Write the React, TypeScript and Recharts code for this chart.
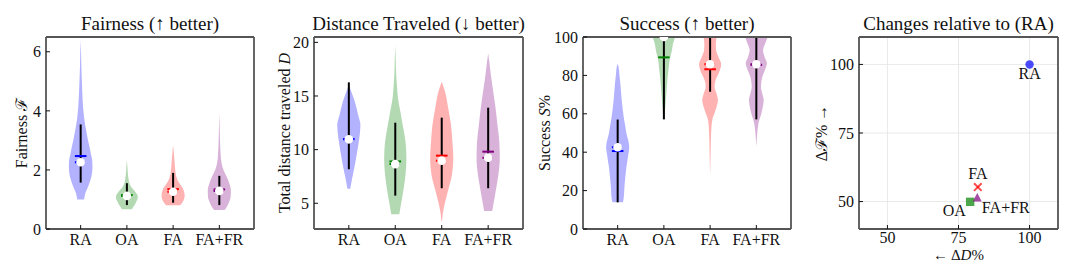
import React from 'react';
import {
  ComposedChart,
  ScatterChart,
  Area,
  Scatter,
  XAxis,
  YAxis,
  ReferenceLine,
  ReferenceDot,
  CartesianGrid,
} from 'recharts';

const methods = ['RA', 'OA', 'FA', 'FA+FR'];
const positions = [1, 2, 3, 4];
const colors = ['#0000ff', '#008000', '#ff0000', '#800080'];

// Violin outlines: [value, half-width in category units]
const fairRA = [[1.0, 0.075], [1.1, 0.085], [1.25, 0.11], [1.43, 0.16], [1.65, 0.21], [1.88, 0.245], [2.1, 0.255], [2.33, 0.25], [2.55, 0.22], [2.79, 0.19], [3.0, 0.16], [3.24, 0.13], [3.5, 0.1], [3.8, 0.072], [4.37, 0.043], [4.93, 0.028], [5.5, 0.015], [6.0, 0.008], [6.4, 0]];
const fairOA = [[0.67, 0.11], [0.75, 0.14], [0.85, 0.18], [0.95, 0.21], [1.05, 0.235], [1.12, 0.235], [1.22, 0.2], [1.32, 0.15], [1.43, 0.09], [1.55, 0.055], [1.7, 0.035], [1.9, 0.02], [2.1, 0.012], [2.33, 0]];
const fairFA = [[0.8, 0.15], [0.9, 0.2], [1.0, 0.235], [1.12, 0.25], [1.25, 0.24], [1.38, 0.21], [1.5, 0.16], [1.6, 0.115], [1.75, 0.075], [1.95, 0.05], [2.2, 0.035], [2.5, 0.02], [2.84, 0]];
const fairFR = [[0.64, 0.11], [0.72, 0.15], [0.87, 0.2], [1.09, 0.245], [1.3, 0.25], [1.55, 0.215], [1.77, 0.16], [2.0, 0.09], [2.22, 0.05], [2.5, 0.03], [2.79, 0.02], [3.3, 0.01], [3.95, 0]];
const fairMean = [2.47, 1.15, 1.35, 1.34];
const fairMedian = [2.26, 1.12, 1.26, 1.29];
const fairLow = [1.57, 0.81, 0.89, 0.81];
const fairHigh = [3.54, 1.55, 1.9, 1.8];

const distRA = [[6.35, 0.03], [7.33, 0.072], [8.57, 0.13], [9.8, 0.18], [11.06, 0.225], [12.3, 0.25], [13.23, 0.2], [14.47, 0.13], [15.2, 0.07], [15.9, 0.01]];
const distOA = [[3.97, 0.087], [4.84, 0.12], [6.08, 0.17], [7.64, 0.22], [9.19, 0.24], [10.74, 0.22], [12.3, 0.16], [13.54, 0.11], [14.8, 0.058], [16.0, 0.035], [17.0, 0.02], [18.5, 0.01], [19.7, 0]];
const distFA = [[3.35, 0.008], [3.9, 0.02], [4.84, 0.058], [6.08, 0.13], [7.64, 0.22], [9.19, 0.25], [10.74, 0.23], [12.3, 0.2], [13.85, 0.14], [15.4, 0.072], [16.33, 0]];
const distFR = [[4.28, 0.087], [4.84, 0.11], [6.08, 0.16], [7.64, 0.22], [9.19, 0.25], [10.74, 0.24], [12.3, 0.2], [13.85, 0.16], [15.4, 0.11], [16.96, 0.058], [18.0, 0.03], [18.98, 0]];
const distMean = [10.98, 8.9, 9.44, 9.81];
const distMedian = [10.96, 8.65, 8.97, 9.25];
const distLow = [8.17, 5.71, 6.4, 6.4];
const distHigh = [16.27, 12.51, 12.98, 13.91];

const succRA = [[13.9, 0.11], [15.1, 0.125], [22.9, 0.15], [32.4, 0.19], [38, 0.225], [42.9, 0.25], [46, 0.23], [49.8, 0.19], [54.2, 0.16], [58.5, 0.13], [67.2, 0.087], [75.9, 0.058], [81, 0.035], [84.5, 0.02], [86, 0]];
const succOA = [[57.1, 0.01], [62, 0.025], [67.2, 0.043], [75.9, 0.07], [80.2, 0.087], [84.5, 0.108], [88.9, 0.13], [91.5, 0.16], [94, 0.18], [96.7, 0.2], [100, 0.245]];
const succFA = [[28.1, 0], [34, 0.006], [40.3, 0.012], [47, 0.018], [53.3, 0.03], [57.7, 0.055], [60.3, 0.095], [63.5, 0.14], [67, 0.17], [70.5, 0.14], [74.1, 0.095], [77.6, 0.12], [81.9, 0.2], [85.8, 0.24], [89, 0.19], [93.2, 0.13], [96, 0.125], [100, 0.14]];
const succFR = [[42.9, 0], [46, 0.008], [49.8, 0.02], [55, 0.045], [60.3, 0.11], [63.5, 0.14], [67.2, 0.16], [70.5, 0.13], [74.1, 0.1], [79.3, 0.13], [83, 0.19], [86.3, 0.23], [89.5, 0.18], [93.2, 0.145], [96, 0.18], [98.5, 0.22], [100, 0.24]];
const succMean = [40.6, 89.4, 83.2, 85.5];
const succMedian = [42.6, 100, 85.8, 85.8];
const succLow = [13.9, 57.1, 71.5, 57.1];
const succHigh = [57, 100, 100, 100];

// Relative changes w.r.t. RA
const deltaD = [100, 79.1, 81.8, 81.6];
const deltaF = [100, 49.9, 55.3, 51.3];

const FONT = "'Liberation Serif', 'DejaVu Serif', serif";
const TEXT = '#111';
const axisLine = { stroke: '#555', strokeWidth: 1.8 };
const tickLine = { stroke: '#111', strokeWidth: 1 };
const tickStyle = { fill: TEXT, fontSize: 16, fontFamily: FONT, style: { fontFamily: FONT } };

function buildRows(violins: number[][][]) {
  const rows: any[] = [];
  violins.forEach((v, i) =>
    v.forEach(([y, hw]) => rows.push({ y, ['v' + i]: [positions[i] - hw, positions[i] + hw] }))
  );
  return rows;
}

function yLabelContent(x: number, node: React.ReactNode) {
  return (props: any) => {
    const vb = props.viewBox || {};
    const cy = vb.height != null ? vb.y + vb.height / 2 : 133;
    return (
      <text x={x} y={cy} transform={`rotate(-90, ${x}, ${cy})`} textAnchor="middle" fontSize={16}
        style={{ fontFamily: FONT }} fill={TEXT}>
        {node}
      </text>
    );
  };
}

function titleContent(title: string) {
  return (props: any) => {
    const vb = props.viewBox || {};
    const cx = vb.width != null ? vb.x + vb.width / 2 : 135;
    return (
      <text x={cx} y={29.5} textAnchor="middle" fontSize={19} style={{ fontFamily: FONT }} fill={TEXT}>
        {title}
      </text>
    );
  };
}

function ViolinPanel(props: any) {
  const { left, width, yAxisWidth, rightMargin, title, yLabel, labelX, yDomain, yTicks, violins, means, medians, lows, highs } = props;
  const rows = buildRows(violins);
  return (
    <div style={{ position: 'absolute', left, top: 0 }}>
      <ComposedChart layout="vertical" width={width} height={263} data={rows} margin={{ top: 36, right: rightMargin - 1, bottom: 0, left: 0 }}>
        <XAxis xAxisId={0} type="number" domain={[0.25, 4.75]} allowDataOverflow ticks={positions} interval={0}
          tickFormatter={(v: number) => methods[v - 1]} height={34} axisLine={axisLine} tickLine={tickLine}
          tickSize={-4} tickMargin={9} tick={tickStyle} />
        <XAxis xAxisId="t" orientation="top" type="number" domain={[0.25, 4.75]} allowDataOverflow ticks={positions} interval={0}
          height={1} tick={false} axisLine={axisLine} tickLine={tickLine} tickSize={-4}
          label={{ content: titleContent(title) }} />
        <YAxis yAxisId={0} type="number" dataKey="y" domain={yDomain} allowDataOverflow ticks={yTicks} interval={0} reversed
          width={yAxisWidth} axisLine={axisLine} tickLine={tickLine} tickSize={-4} tickMargin={9} tick={tickStyle}
          label={{ content: yLabelContent(labelX, yLabel) }} />
        <YAxis yAxisId="r" orientation="right" type="number" dataKey="y" domain={yDomain} allowDataOverflow ticks={yTicks} interval={0} reversed
          width={1} tick={false} axisLine={axisLine} tickLine={tickLine} tickSize={-4} />
        {/* invisible series that binds the top and right frame axes */}
        <Area xAxisId="t" yAxisId="r" dataKey="v0" type="monotone" stroke="none" fill="none" fillOpacity={0}
          isAnimationActive={false} dot={false} activeDot={false} />
        {violins.map((_: any, i: number) => (
          <Area key={'a' + i} dataKey={'v' + i} type="monotone" stroke="none" fill={colors[i]} fillOpacity={0.3}
            isAnimationActive={false} dot={false} activeDot={false} connectNulls={false} />
        ))}
        {positions.map((p, i) => (
          <ReferenceLine key={'w' + i} segment={[{ x: p, y: lows[i] }, { x: p, y: highs[i] }]} stroke="#000" strokeWidth={2} ifOverflow="hidden" />
        ))}
        {positions.map((p, i) => (
          <ReferenceLine key={'m' + i} segment={[{ x: p - 0.125, y: means[i] }, { x: p + 0.125, y: means[i] }]} stroke={colors[i]} strokeWidth={2} ifOverflow="hidden" />
        ))}
        {positions.map((p, i) => (
          <ReferenceLine key={'d' + i} segment={[{ x: p - 0.125, y: medians[i] }, { x: p + 0.125, y: medians[i] }]} stroke={colors[i]} strokeWidth={2} strokeDasharray="2 2" ifOverflow="hidden" />
        ))}
        {positions.map((p, i) => (
          <ReferenceDot key={'o' + i} x={p} y={medians[i]} r={4.3} fill="#fff" stroke="none" ifOverflow="hidden" />
        ))}
      </ComposedChart>
    </div>
  );
}

const labelText = (t: string, dx: number, dy: number, anchor: string) => ({ t, dx, dy, anchor });
const pointLabels = [
  labelText('RA', 0, 15, 'middle'),
  labelText('OA', -4.4, 14, 'end'),
  labelText('FA', 0, -8, 'middle'),
  labelText('FA+FR', 4.6, 15, 'start'),
];

function markerShape(i: number) {
  return (p: any) => {
    const { cx, cy } = p;
    const lab = pointLabels[i];
    let mark: React.ReactNode = null;
    if (i === 0) mark = <circle cx={cx} cy={cy} r={4.2} fill={colors[0]} fillOpacity={0.7} />;
    if (i === 1) mark = <rect x={cx - 4.2} y={cy - 4.2} width={8.4} height={8.4} fill={colors[1]} fillOpacity={0.7} />;
    if (i === 2)
      mark = (
        <g stroke={colors[2]} strokeOpacity={0.7} strokeWidth={2}>
          <line x1={cx - 3.8} y1={cy - 3.8} x2={cx + 3.8} y2={cy + 3.8} />
          <line x1={cx - 3.8} y1={cy + 3.8} x2={cx + 3.8} y2={cy - 3.8} />
        </g>
      );
    if (i === 3) mark = <polygon points={`${cx},${cy - 5} ${cx - 4.5},${cy + 3.5} ${cx + 4.5},${cy + 3.5}`} fill={colors[3]} fillOpacity={0.7} />;
    return (
      <g>
        {mark}
        <text x={cx + lab.dx} y={cy + lab.dy} textAnchor={lab.anchor as any} fontSize={16} style={{ fontFamily: FONT }} fill={TEXT}>
          {lab.t}
        </text>
      </g>
    );
  };
}

function ScatterPanel() {
  const ticks = [50, 75, 100];
  const dom = [40, 110];
  return (
    <div style={{ position: 'absolute', left: 806, top: 0 }}>
      <ScatterChart width={270} height={263} margin={{ top: 36, right: 17, bottom: 0, left: 0 }}>
        <CartesianGrid stroke="#e3e3e3" strokeWidth={0.8} />
        <XAxis xAxisId={0} type="number" dataKey="x" domain={dom} allowDataOverflow ticks={ticks} interval={0} height={34}
          axisLine={axisLine} tickLine={tickLine} tickSize={-4} tickMargin={6.5} tick={tickStyle}
          label={{
            content: (props: any) => {
              const vb = props.viewBox || {};
              const cx = vb.width != null ? vb.x + vb.width / 2 : 149;
              return (
                <text x={cx} y={260} textAnchor="middle" fontSize={15} style={{ fontFamily: FONT }} fill={TEXT}>
                  ← Δ<tspan fontStyle="italic">D</tspan>%
                </text>
              );
            },
          }} />
        <XAxis xAxisId="t" orientation="top" type="number" dataKey="x" domain={dom} allowDataOverflow ticks={ticks} interval={0} height={1}
          tick={false} axisLine={axisLine} tickLine={tickLine} tickSize={-4}
          label={{ content: titleContent('Changes relative to (RA)') }} />
        <YAxis yAxisId={0} type="number" dataKey="y" domain={dom} allowDataOverflow ticks={ticks} interval={0} width={53}
          axisLine={axisLine} tickLine={tickLine} tickSize={-4} tickMargin={9} tick={tickStyle}
          label={{ content: yLabelContent(21, <>Δℱ% →</>) }} />
        <YAxis yAxisId="r" orientation="right" type="number" dataKey="y" domain={dom} allowDataOverflow ticks={ticks} interval={0} width={1}
          tick={false} axisLine={axisLine} tickLine={tickLine} tickSize={-4} />
        {/* invisible series that binds the top and right frame axes */}
        <Scatter xAxisId="t" yAxisId="r" data={[{ x: deltaD[0], y: deltaF[0] }]} shape={() => <g />} isAnimationActive={false} />
        {methods.map((m, i) => (
          <Scatter key={m} name={m} data={[{ x: deltaD[i], y: deltaF[i] }]} shape={markerShape(i)} isAnimationActive={false} />
        ))}
      </ScatterChart>
    </div>
  );
}

export default function App() {
  return (
    <div style={{ position: 'absolute', left: 0, top: 0, width: 1076, height: 263, background: '#fff', overflow: 'hidden', fontFamily: FONT }}>
      <ViolinPanel left={0} width={270} yAxisWidth={46} rightMargin={16} title="Fairness (↑ better)"
        yLabel={<>Fairness ℱ</>} labelX={27} yDomain={[0, 6.5]} yTicks={[0, 2, 4, 6]}
        violins={[fairRA, fairOA, fairFA, fairFR]} means={fairMean} medians={fairMedian} lows={fairLow} highs={fairHigh} />
      <ViolinPanel left={270} width={270} yAxisWidth={44} rightMargin={17} title="Distance Traveled (↓ better)"
        yLabel={<>Total distance traveled <tspan fontStyle="italic">D</tspan></>} labelX={20} yDomain={[2.6, 20.5]} yTicks={[5, 10, 15, 20]}
        violins={[distRA, distOA, distFA, distFR]} means={distMean} medians={distMedian} lows={distLow} highs={distHigh} />
      <ViolinPanel left={530} width={276} yAxisWidth={53} rightMargin={15} title="Success (↑ better)"
        yLabel={<>Success <tspan fontStyle="italic">S</tspan>%</>} labelX={20} yDomain={[0, 100]} yTicks={[0, 20, 40, 60, 80, 100]}
        violins={[succRA, succOA, succFA, succFR]} means={succMean} medians={succMedian} lows={succLow} highs={succHigh} />
      <ScatterPanel />
    </div>
  );
}
